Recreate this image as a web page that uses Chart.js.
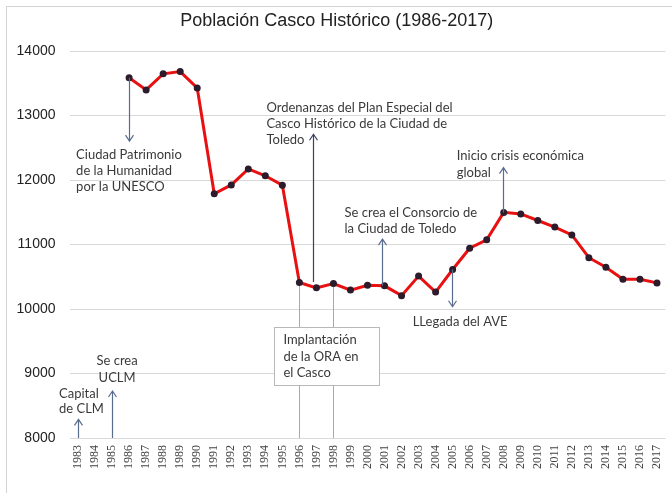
<!DOCTYPE html>
<html>
<head>
<meta charset="utf-8">
<script src="https://cdn.jsdelivr.net/npm/chart.js@4.4.0/dist/chart.umd.min.js"></script>
<style>
  html, body { margin: 0; padding: 0; background: #fff; }
  #wrap { width: 672px; height: 493px; }
</style>
</head>
<body>
<div id="wrap"><canvas id="chart"></canvas></div>
<script>
// Years on the axis (the series only starts in 1986)
const years = ['1983', '1984', '1985', '1986', '1987', '1988', '1989', '1990', '1991', '1992',
    '1993', '1994', '1995', '1996', '1997', '1998', '1999', '2000', '2001', '2002',
    '2003', '2004', '2005', '2006', '2007', '2008', '2009', '2010', '2011', '2012',
    '2013', '2014', '2015', '2016', '2017']

// Población del Casco Histórico
const population = [null, null, null, 13585, 13397, 13646, 13681, 13427, 11787, 11924,
    12172, 12066, 11919, 10410, 10328, 10395, 10293, 10369, 10359, 10207,
    10511, 10263, 10612, 10942, 11073, 11498, 11474, 11372, 11270, 11149,
    10795, 10647, 10460, 10460, 10405]

const yTicks = [8000, 9000, 10000, 11000, 12000, 13000, 14000]

// Annotated events (arrow from -> to, in population units)
const events = [
    { year: '1983', from: 8000, to: 8288, lines: ['Capital', 'de CLM'], textAt: 8683, dx: -19, align: 'left', lh: 15 },
    { year: '1985', from: 8000, to: 8729, lines: ['Se crea', 'UCLM'], textAt: 9200, dx: 5, align: 'center', lh: 17 },
    { year: '1986', from: 13585, to: 12602, lines: ['Ciudad Patrimonio', 'de la Humanidad', 'por la UNESCO'], textAt: 12390, dx: -53, align: 'left', lh: 16 },
    { year: '1997', from: 10420, to: 12709, lines: ['Ordenanzas del Plan Especial del', 'Casco Histórico de la Ciudad de', 'Toledo'], textAt: 13119, dx: -50, align: 'left', lh: 16, adx: -3, color: '#3b4060' },
    { year: '2001', from: 10359, to: 11083, lines: ['Se crea el Consorcio de', 'la Ciudad de Toledo'], textAt: 11494, dx: -40, align: 'left', lh: 16, adx: -3 },
    { year: '2005', from: 10612, to: 10035, lines: ['LLegada del AVE'], textAt: 9797, dx: -40, align: 'left', lh: 16, adx: -1 },
    { year: '2008', from: 11498, to: 12192, lines: ['Inicio crisis económica', 'global'], textAt: 12375, dx: -47, align: 'left', lh: 17, adx: -1 }
]

// ORA box hanging between 1996 and 1998
const oraBox = { from: '1996', to: '1998', lines: ['Implantación', 'de la ORA en', 'el Casco'], top: 9716, bottom: 8820, left: -25, right: 80, textDx: -16, textAt: 9519, lh: 16.5 }

const textFont = '13px Lato, "Open Sans", sans-serif'

function drawArrow(ctx, x, y1, y2, color) {
    ctx.save()
    ctx.strokeStyle = color
    ctx.lineWidth = 1.2
    ctx.beginPath()
    ctx.moveTo(x, y1)
    ctx.lineTo(x, y2)
    const d = y2 < y1 ? 1 : -1
    ctx.moveTo(x - 4, y2 + d * 6)
    ctx.lineTo(x, y2)
    ctx.lineTo(x + 4, y2 + d * 6)
    ctx.stroke()
    ctx.restore()
}

const annotations = {
    id: 'annotations',
    beforeDatasetsDraw(chart) {
        const { ctx, scales: { x, y } } = chart
        // vertical guides for the ORA box
        ctx.save()
        ctx.strokeStyle = '#a8a8a8'
        ctx.lineWidth = 1
        ;[oraBox.from, oraBox.to].forEach(yr => {
            const i = years.indexOf(yr)
            const px = Math.round(x.getPixelForValue(i)) + 0.5
            ctx.beginPath()
            ctx.moveTo(px, y.getPixelForValue(population[i]))
            ctx.lineTo(px, y.getPixelForValue(8000))
            ctx.stroke()
        })
        ctx.restore()
    },
    afterDraw(chart) {
        const { ctx, scales: { x, y } } = chart

        // outer frame
        ctx.save()
        ctx.strokeStyle = '#d4d4d4'
        ctx.lineWidth = 1
        ctx.strokeRect(6.5, 6.5, 700, 520)
        ctx.restore()

        // rotated year labels
        ctx.save()
        ctx.fillStyle = '#444'
        ctx.font = '12px "Liberation Serif", serif'
        ctx.textAlign = 'right'
        ctx.textBaseline = 'middle'
        years.forEach((yr, i) => {
            ctx.save()
            ctx.translate(x.getPixelForValue(i), y.bottom + 7)
            ctx.rotate(-Math.PI / 2)
            ctx.fillText(yr, 0, 0)
            ctx.restore()
        })
        ctx.restore()

        // ORA box
        const bx = x.getPixelForValue(years.indexOf(oraBox.from))
        const top = y.getPixelForValue(oraBox.top)
        const bottom = y.getPixelForValue(oraBox.bottom)
        ctx.save()
        ctx.fillStyle = '#fff'
        ctx.strokeStyle = '#b8b8b8'
        ctx.lineWidth = 1
        ctx.fillRect(bx + oraBox.left, top, oraBox.right - oraBox.left, bottom - top)
        ctx.strokeRect(Math.round(bx + oraBox.left) + 0.5, Math.round(top) + 0.5, oraBox.right - oraBox.left, Math.round(bottom - top))
        ctx.fillStyle = '#3a3a3a'
        ctx.font = textFont
        ctx.textAlign = 'left'
        ctx.textBaseline = 'middle'
        oraBox.lines.forEach((t, k) => {
            ctx.fillText(t, bx + oraBox.textDx, y.getPixelForValue(oraBox.textAt) + k * oraBox.lh)
        })
        ctx.restore()

        // events
        events.forEach(ev => {
            const px = x.getPixelForValue(years.indexOf(ev.year))
            drawArrow(ctx, Math.round(px + (ev.adx || 0)) + 0.5, y.getPixelForValue(ev.from), y.getPixelForValue(ev.to), ev.color || '#5a6c8e')
            ctx.save()
            ctx.fillStyle = '#3a3a3a'
            ctx.font = textFont
            ctx.textAlign = ev.align
            ctx.textBaseline = 'middle'
            const ty = y.getPixelForValue(ev.textAt)
            ev.lines.forEach((t, k) => ctx.fillText(t, px + ev.dx, ty + k * ev.lh))
            ctx.restore()
        })
    }
}

new Chart(document.getElementById('chart'), {
    type: 'line',
    data: {
        labels: years,
        datasets: [{
            data: population,
            borderColor: '#e81010',
            borderWidth: 3,
            pointRadius: 3.5,
            pointBackgroundColor: '#2b1b2b',
            pointBorderColor: '#2b1b2b',
            pointBorderWidth: 0,
            tension: 0
        }]
    },
    options: {
        responsive: true,
        maintainAspectRatio: false,
        animation: false,
        layout: { padding: { left: 8, right: 6.5, top: 0, bottom: 47 } },
        plugins: {
            legend: { display: false },
            tooltip: { enabled: false },
            title: {
                display: true,
                text: 'Población Casco Histórico (1986-2017)',
                color: '#222',
                font: { family: '"Liberation Sans", Arial, sans-serif', size: 18, weight: 'normal' },
                padding: { top: 10, bottom: 19.4 }
            }
        },
        scales: {
            x: {
                offset: true,
                grid: { display: false },
                border: { display: false },
                ticks: { display: false }
            },
            y: {
                min: 8000,
                max: 14000,
                afterFit(scale) { scale.width = 61.5 },
                afterBuildTicks(scale) { scale.ticks = yTicks.map(v => ({ value: v })) },
                grid: { color: '#d9d9d9', lineWidth: 1, drawTicks: false },
                border: { display: false },
                ticks: {
                    padding: 14,
                    color: '#222',
                    font: { family: '"Liberation Sans", Arial, sans-serif', size: 14 },
                    callback: v => String(v)
                }
            }
        }
    },
    plugins: [annotations]
})
</script>
</body>
</html>
